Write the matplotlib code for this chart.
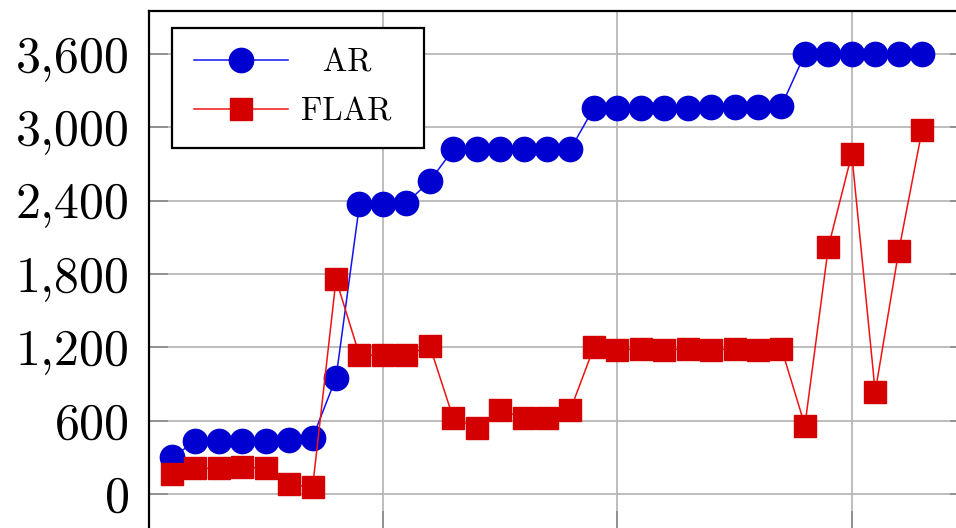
import matplotlib
matplotlib.use("Agg")
import matplotlib.pyplot as plt
from matplotlib.ticker import FuncFormatter

# values
x = list(range(1, 34))
ar = [300, 430, 430, 430, 430, 440, 460, 950, 2370, 2370, 2380, 2560,
      2820, 2820, 2820, 2820, 2820, 2820,
      3160, 3160, 3160, 3160, 3160, 3170, 3170, 3170, 3175,
      3600, 3600, 3600, 3600, 3600, 3600]
flar = [160, 210, 210, 220, 210, 80, 55, 1755, 1135, 1135, 1135, 1210,
        620, 540, 690, 620, 620, 690,
        1200, 1175, 1190, 1175, 1190, 1175, 1190, 1175, 1190,
        560, 2020, 2780, 835, 1985, 2980]
yticks = [0, 600, 1200, 1800, 2400, 3000, 3600]
xticks = [10, 20, 30]

plt.rcParams["font.family"] = ["cmr10", "DejaVu Serif"]
plt.rcParams["axes.unicode_minus"] = False

fig = plt.figure(figsize=(9.56, 5.28), dpi=100)
ax = fig.add_axes([148.5 / 956, -2 / 528, (969 - 148.5) / 956, (530 - 11) / 528])

ax.plot(x, ar, color="#1212f0", lw=1.1, marker="o", ms=17.5,
        mfc="#0000d0", mec="#0000d0", label="  AR", zorder=3)
ax.plot(x, flar, color="#f01212", lw=1.1, marker="s", ms=16.5,
        mfc="#d40000", mec="#d40000", label="FLAR ", zorder=4)

ax.set_xlim(0, 35)
ax.set_ylim(-295, 3952)
ax.set_xticks(xticks)
ax.set_yticks(yticks)
ax.yaxis.set_major_formatter(FuncFormatter(lambda v, p: f"{v:,.0f}"))
ax.tick_params(axis="both", direction="in", length=14, width=1.2,
               color="#8a8a8a", labelsize=36, pad=13.5, right=True)
ax.tick_params(axis="x", labelbottom=False)
ax.grid(True, color="#b8b8b8", lw=1.3)
ax.set_axisbelow(True)
for s in ax.spines.values():
    s.set_linewidth(1.6)
    s.set_color("black")

leg = ax.legend(loc="upper left", bbox_to_anchor=(0.029, 0.968),
                fontsize=23.5, handlelength=2.9, handletextpad=0.4,
                borderpad=0.65, labelspacing=0.6, fancybox=False,
                framealpha=1, edgecolor="black", borderaxespad=0)
leg.get_frame().set_linewidth(1.6)
leg.set_zorder(10)

fig.savefig("out.png", dpi=100)
